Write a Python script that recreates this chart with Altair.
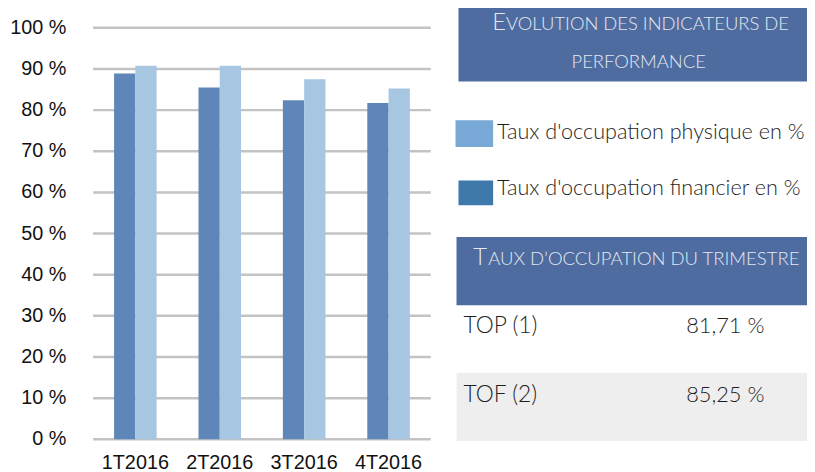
import altair as alt
import pandas as pd

# ---------------- data ----------------
quarters = ["1T2016", "2T2016", "3T2016", "4T2016"]
series_names = ["TOP", "TOF"]
top_values = [88.9, 85.5, 82.4, 81.71]     # dark bars
tof_values = [90.8, 90.8, 87.5, 85.25]     # light bars
bar_colors = ["#5f86b8", "#a6c6e2"]

y_ticks = [0, 10, 20, 30, 40, 50, 60, 70, 80, 90, 100]
y_tick_labels = ["0 %", "10 %", "20 %", "30 %", "40 %", "50 %",
                 "60 %", "70 %", "80 %", "90 %", "100 %"]

legend_labels = ["Taux d'occupation physique en %", "Taux d'occupation financier en %"]
legend_colors = ["#79a9d6", "#3f78ab"]

header1_first = "E"
header1_rest = "VOLUTION DES INDICATEURS DE"
header1_line2 = "PERFORMANCE"
header2_first = "T"
header2_rest = "AUX D\u2019OCCUPATION DU TRIMESTRE"
table_rows = ["TOP (1)", "TOF (2)"]
table_values = ["81,71 %", "85,25 %"]

HEADER_BLUE = "#4e6ca0"
HEADER_TEXT = "#e4e9f2"
ROW_GRAY = "#eeeeee"
TEXT_DARK = "#1e1e1e"

# ---------------- tables ----------------
rows = []
for q, a, b in zip(quarters, top_values, tof_values):
    rows.append({"quarter": q, "series": series_names[0], "value": a})
    rows.append({"quarter": q, "series": series_names[1], "value": b})
bars_df = pd.DataFrame(rows)
ticks_df = pd.DataFrame({"tick": y_ticks, "label": y_tick_labels})
quarters_df = pd.DataFrame({"quarter": quarters})
one = pd.DataFrame({"k": [0]})

x_scale = alt.Scale(domain=quarters, range=[86, 427], paddingInner=0.496, paddingOuter=0.248)
y_scale = alt.Scale(domain=[0, 100], range=[433.3, 17.7])

grid = alt.Chart(ticks_df).mark_rule(color="#c3c3c3", strokeWidth=2.5).encode(
    y=alt.Y("tick:Q", scale=y_scale, axis=None),
    x=alt.value(86),
    x2=alt.value(427),
)

bars = alt.Chart(bars_df).mark_bar().encode(
    x=alt.X("quarter:N", sort=quarters, scale=x_scale, axis=None),
    xOffset=alt.XOffset("series:N", sort=series_names,
                        scale=alt.Scale(domain=series_names, paddingInner=0, paddingOuter=0)),
    y=alt.Y("value:Q", scale=y_scale, axis=None),
    color=alt.Color("series:N", scale=alt.Scale(domain=series_names, range=bar_colors), legend=None),
)

ylabels = alt.Chart(ticks_df).mark_text(
    align="right", baseline="middle", font="Liberation Sans", fontSize=20, color="#111111"
).encode(
    y=alt.Y("tick:Q", scale=y_scale, axis=None),
    x=alt.value(59),
    text="label:N",
)

xlabels = alt.Chart(quarters_df).mark_text(
    align="center", baseline="alphabetic", font="Liberation Sans", fontSize=20, color="#111111"
).encode(
    x=alt.X("quarter:N", sort=quarters, scale=x_scale, axis=None),
    y=alt.value(463),
    text="quarter:N",
)


def box(x, x2, y, y2, color):
    return alt.Chart(one).mark_rect(color=color).encode(
        x=alt.value(x), x2=alt.value(x2), y=alt.value(y), y2=alt.value(y2))


def label(txt, x, y, size, color, align="left", font="Lato", weight=300):
    return alt.Chart(one).mark_text(
        text=txt, align=align, baseline="alphabetic", font=font, fontSize=size,
        color=color, fontWeight=weight
    ).encode(x=alt.value(x), y=alt.value(y))


panel = [
    box(455, 807, -8, 72, HEADER_BLUE),
    label(header1_first, 489, 19.5, 24, HEADER_TEXT),
    label(header1_rest, 503, 19.5, 18.6, HEADER_TEXT),
    label(header1_line2, 637, 58.7, 18.6, HEADER_TEXT, align="center"),
    box(452, 490, 111, 138, legend_colors[0]),
    label(legend_labels[0], 494, 130.3, 21.8, TEXT_DARK),
    box(455, 490, 172, 197, legend_colors[1]),
    label(legend_labels[1], 494, 187, 21.8, TEXT_DARK),
    box(453, 807, 229, 298, HEADER_BLUE),
    label(header2_first, 470, 257.7, 24, HEADER_TEXT),
    label(header2_rest, 485, 257.7, 18.7, HEADER_TEXT),
    box(453, 807, 366, 435, ROW_GRAY),
    label(table_rows[0], 460, 326.3, 23, TEXT_DARK),
    label(table_values[0], 685, 326.3, 22, TEXT_DARK),
    label(table_rows[1], 460, 395.3, 23, TEXT_DARK),
    label(table_values[1], 685, 395.3, 22, TEXT_DARK),
]

chart = alt.layer(grid, bars, ylabels, xlabels, *panel).properties(
    width=807,
    height=464,
    autosize=alt.AutoSizeParams(type="none"),
    padding=0,
).configure_view(stroke=None)

chart.save("out.html", embed_options={"renderer": "svg", "actions": False})
